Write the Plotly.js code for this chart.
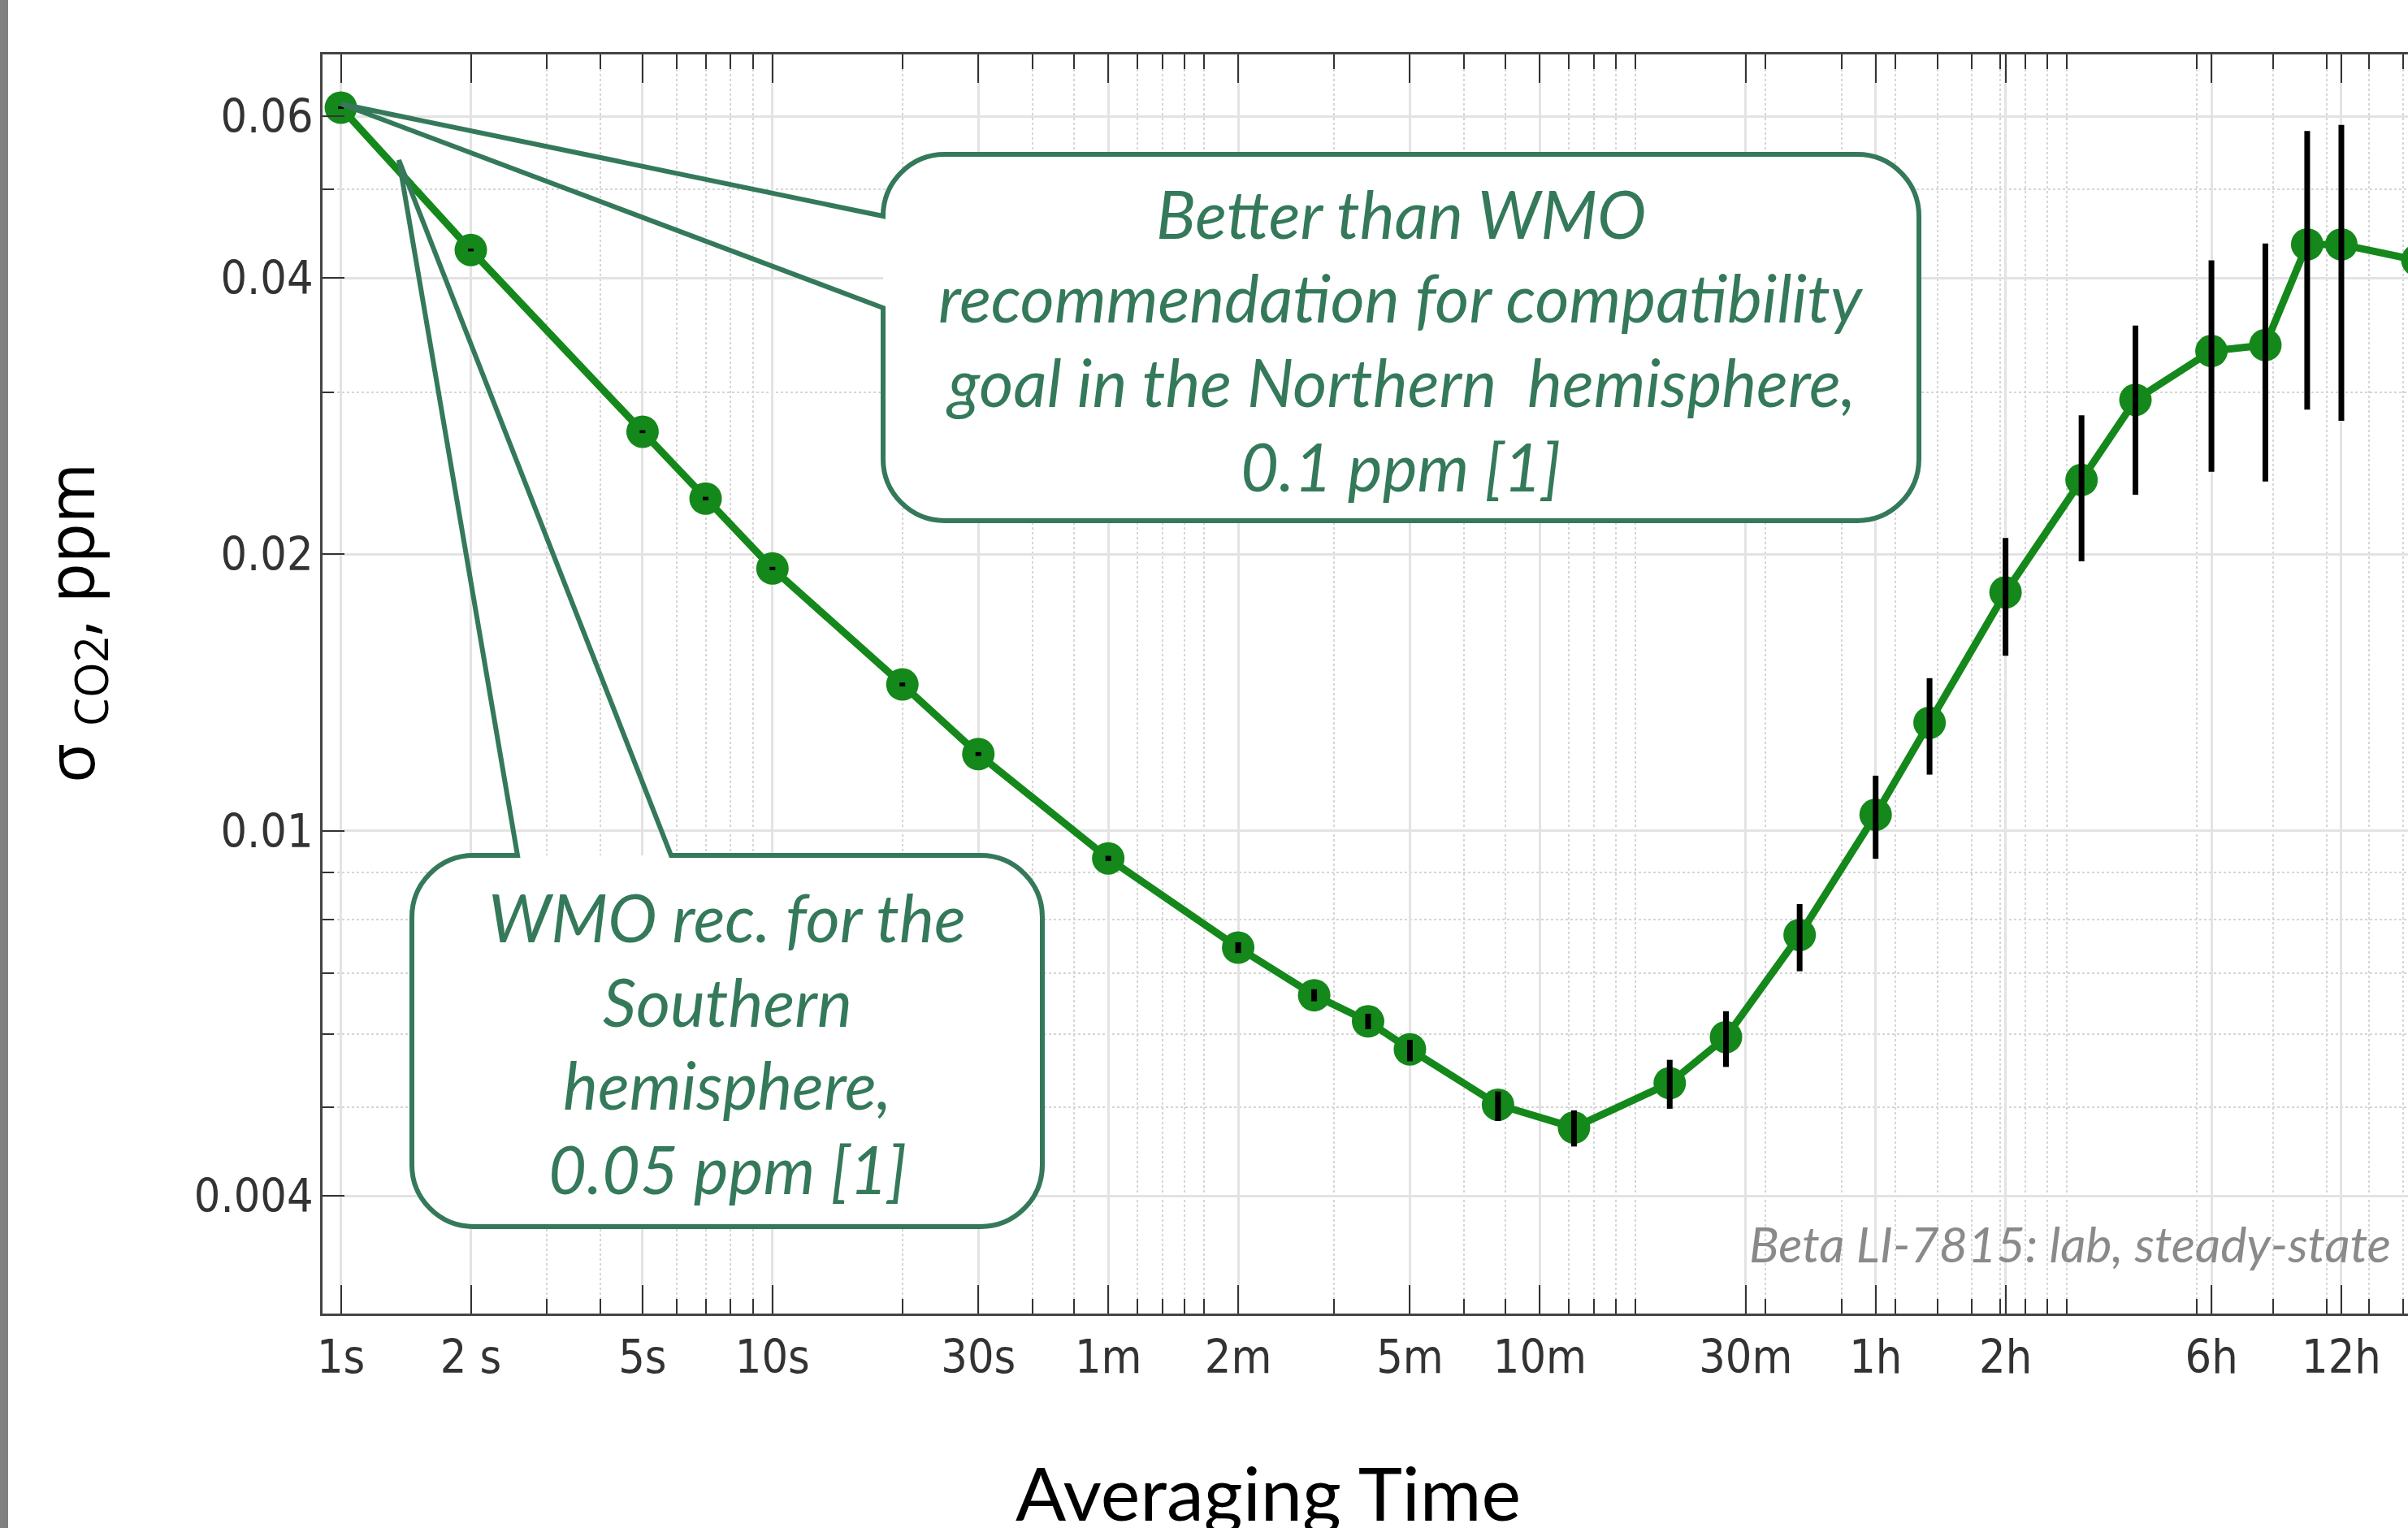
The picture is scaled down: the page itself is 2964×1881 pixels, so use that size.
<!DOCTYPE html>
<html><head><meta charset="utf-8">
<script src="https://cdn.plot.ly/plotly-3.0.1.min.js"></script>
<style>html,body{margin:0;padding:0;overflow:hidden;background:#fff;width:2964px;height:1881px}</style>
</head><body><div id="chart" style="width:3050px;height:1881px"></div>
<script>
// ---- data (averaging time in seconds, Allan deviation of CO2 in ppm) ----
const averagingTime = [1,2,5,7,10,20,30,60,120,180,240,300,480,720,1200,1620,2400,3600,4800,7200,10800,14400,21600,28800,36000,43200,64800];
const sigmaCO2 = [0.0613,0.0429,0.0272,0.0230,0.0193,0.01443,0.01212,0.00933,0.00746,0.00662,0.00620,0.00578,0.00503,0.00475,0.00531,0.00596,0.00770,0.01041,0.01311,0.01818,0.0241,0.02946,0.0333,0.0338,0.0435,0.0435,0.0418];
const errPlus  = [0.0002,0.00015,0.0001,0.0001,0.00008,0.00007,0.00006,0.00006,0.0001,0.0001,0.00012,0.00014,0.00017,0.00021,0.00032,0.0004,0.00062,0.00107,0.00155,0.00266,0.00424,0.00604,0.0085,0.0098,0.0143,0.0152,0.015];
const errMinus = [0.0002,0.00015,0.0001,0.0001,0.00008,0.00007,0.00006,0.00006,0.0001,0.0001,0.00012,0.00017,0.0002,0.00022,0.00033,0.00043,0.00067,0.00109,0.0016,0.00267,0.00445,0.00624,0.0087,0.0098,0.01475,0.01555,0.015];

const xTickVals = [1,2,5,10,30,60,120,300,600,1800,3600,7200,21600,43200];
const xTickText = ['1s','2 s','5s','10s','30s','1m','2m','5m','10m','30m','1h','2h','6h','12h'];
const xMinorVals = [3,4,6,7,8,9,20,40,50,70,80,90,100,200,400,500,700,800,900,1000,2000,3000,4000,5000,6000,7000,8000,9000,10000,20000,30000,40000,50000,60000,70000,80000,90000];
const yTickVals = [0.004,0.01,0.02,0.04,0.06];
const yTickText = ['0.004','0.01','0.02','0.04','0.06'];
const yMinorVals = [0.005,0.006,0.007,0.008,0.009,0.03,0.05];

const calloutNorth = ['Better than WMO','recommendation for compatibility','goal in the Northern\u00a0 hemisphere,','0.1 ppm [1]'];
const calloutSouth = ['WMO rec. for the','Southern','hemisphere,','0.05 ppm [1]'];
const noteText = 'Beta LI-7815: lab, steady-state';

// ---- geometry ----
const W=3050, H=1881, ML=397, MR=0, MT=67, MB=264;
const PW=W-ML-MR, PH=H-MT-MB;
const px = x => (x-ML)/PW;
const py = y => (H-MB-y)/PH;
const GREEN='#14881a', BOXC='#34795a';

function pt(x,y){return px(x).toFixed(5)+','+py(y).toFixed(5);}
function boxPath(l,t,r,b,rad,wedge){
  const k=0.5523*rad; let s='';
  s+='M'+pt(l+rad,t);
  if(wedge && wedge.side==='top'){ s+=' L'+pt(wedge.a,t)+' L'+pt(wedge.tx,wedge.ty)+' L'+pt(wedge.b,t); }
  s+=' L'+pt(r-rad,t);
  s+=' C'+pt(r-rad+k,t)+' '+pt(r,t+rad-k)+' '+pt(r,t+rad);
  s+=' L'+pt(r,b-rad);
  s+=' C'+pt(r,b-rad+k)+' '+pt(r-rad+k,b)+' '+pt(r-rad,b);
  s+=' L'+pt(l+rad,b);
  s+=' C'+pt(l+rad-k,b)+' '+pt(l,b-rad+k)+' '+pt(l,b-rad);
  if(wedge && wedge.side==='left'){ s+=' L'+pt(l,wedge.b)+' L'+pt(wedge.tx,wedge.ty)+' L'+pt(l,wedge.a); }
  s+=' L'+pt(l,t+rad);
  s+=' C'+pt(l,t+rad-k)+' '+pt(l+rad-k,t)+' '+pt(l+rad,t);
  s+=' Z';
  return s;
}
const b1={l:1087,t:190,r:2362,b:641}, b2={l:507,t:1053,r:1283,b:1510}, R=76;
const w1={side:'left',a:266,b:379,tx:420,ty:128};
const w2={side:'top',a:637,b:826,tx:491,ty:197};

const shapes=[
  {type:'rect',xref:'paper',yref:'paper',x0:px(0),x1:px(10),y0:py(H+20),y1:py(-20),fillcolor:'#808080',line:{width:0},layer:'above'},
  {type:'path',xref:'paper',yref:'paper',path:boxPath(b1.l,b1.t,b1.r,b1.b,R,null),fillcolor:'#ffffff',line:{width:0},layer:'above'},
  {type:'path',xref:'paper',yref:'paper',path:boxPath(b2.l,b2.t,b2.r,b2.b,R,null),fillcolor:'#ffffff',line:{width:0},layer:'above'},
  {type:'path',xref:'paper',yref:'paper',path:boxPath(b1.l,b1.t,b1.r,b1.b,R,w1),fillcolor:'rgba(0,0,0,0)',line:{width:6,color:BOXC},layer:'above'},
  {type:'path',xref:'paper',yref:'paper',path:boxPath(b2.l,b2.t,b2.r,b2.b,R,w2),fillcolor:'rgba(0,0,0,0)',line:{width:6,color:BOXC},layer:'above'}
];

const calloutFont={family:'Lato, sans-serif',size:81,color:BOXC,style:'italic'};
const annotations=[];
const c1y=[262,366,469,573], c2y=[1128,1232,1334,1438];
calloutNorth.forEach((t,i)=>annotations.push({xref:'paper',yref:'paper',x:px(1724),y:py(c1y[i]),text:t,showarrow:false,xanchor:'center',yanchor:'middle',font:calloutFont}));
calloutSouth.forEach((t,i)=>annotations.push({xref:'paper',yref:'paper',x:px(895),y:py(c2y[i]),text:t,showarrow:false,xanchor:'center',yanchor:'middle',font:calloutFont}));
annotations.push({xref:'paper',yref:'paper',x:px(2945),y:py(1530),text:noteText,showarrow:false,xanchor:'right',yanchor:'middle',font:{family:'Lato, sans-serif',size:61,color:'#8a8a8a',style:'italic'}});
annotations.push({xref:'paper',yref:'paper',x:px(1561),y:py(1836),text:'Averaging Time',showarrow:false,xanchor:'center',yanchor:'middle',font:{family:'Lato, sans-serif',size:92,color:'#000'}});
annotations.push({xref:'paper',yref:'paper',x:px(89),y:py(767),text:'σ <sub>CO2</sub>, ppm',textangle:-90,showarrow:false,xanchor:'center',yanchor:'middle',font:{family:'Open Sans, sans-serif',size:80,color:'#000'}});

const tickFont={family:'Liberation Sans Narrow, DejaVu Sans Condensed, sans-serif',size:57,color:'#333'};

const traces=[
  {x:averagingTime,y:sigmaCO2,type:'scatter',mode:'lines+markers',
   line:{color:GREEN,width:9},marker:{color:GREEN,size:40},hoverinfo:'x+y',showlegend:false},
  {x:averagingTime,y:sigmaCO2,type:'scatter',mode:'markers',marker:{size:1,color:'rgba(0,0,0,0)'},
   error_y:{type:'data',symmetric:false,array:errPlus,arrayminus:errMinus,color:'#000',thickness:7,width:0},
   hoverinfo:'skip',showlegend:false}
];

const layout={
  width:W,height:H,margin:{l:ML,r:MR,t:MT,b:MB,pad:0},
  paper_bgcolor:'#fff',plot_bgcolor:'#fff',showlegend:false,
  xaxis:{type:'log',range:[-0.04255,4.9518],tickmode:'array',tickvals:xTickVals,ticktext:xTickText,
    ticks:'inside',ticklen:35,tickwidth:2,tickcolor:'#333',showline:true,linecolor:'#444',linewidth:3,mirror:'allticks',
    showgrid:true,gridcolor:'#e3e3e3',gridwidth:3,zeroline:false,tickfont:tickFont,ticklabelstandoff:2,automargin:false,
    minor:{tickmode:'array',tickvals:xMinorVals,ticks:'inside',ticklen:18,tickwidth:2,tickcolor:'#333',showgrid:true,gridcolor:'#d6d6d6',griddash:'dot',gridwidth:2}},
  yaxis:{type:'log',range:[-2.5258,-1.1546],tickmode:'array',tickvals:yTickVals,ticktext:yTickText,
    ticks:'inside',ticklen:27,tickwidth:2,tickcolor:'#333',showline:true,linecolor:'#444',linewidth:3,mirror:'allticks',
    showgrid:true,gridcolor:'#e3e3e3',gridwidth:3,zeroline:false,tickfont:tickFont,ticklabelstandoff:-3,automargin:false,
    minor:{tickmode:'array',tickvals:yMinorVals,ticks:'inside',ticklen:14,tickwidth:2,tickcolor:'#333',showgrid:true,gridcolor:'#d6d6d6',griddash:'dot',gridwidth:2}},
  shapes:shapes,annotations:annotations
};
Plotly.newPlot('chart',traces,layout,{staticPlot:true,displayModeBar:false});
</script></body></html>
